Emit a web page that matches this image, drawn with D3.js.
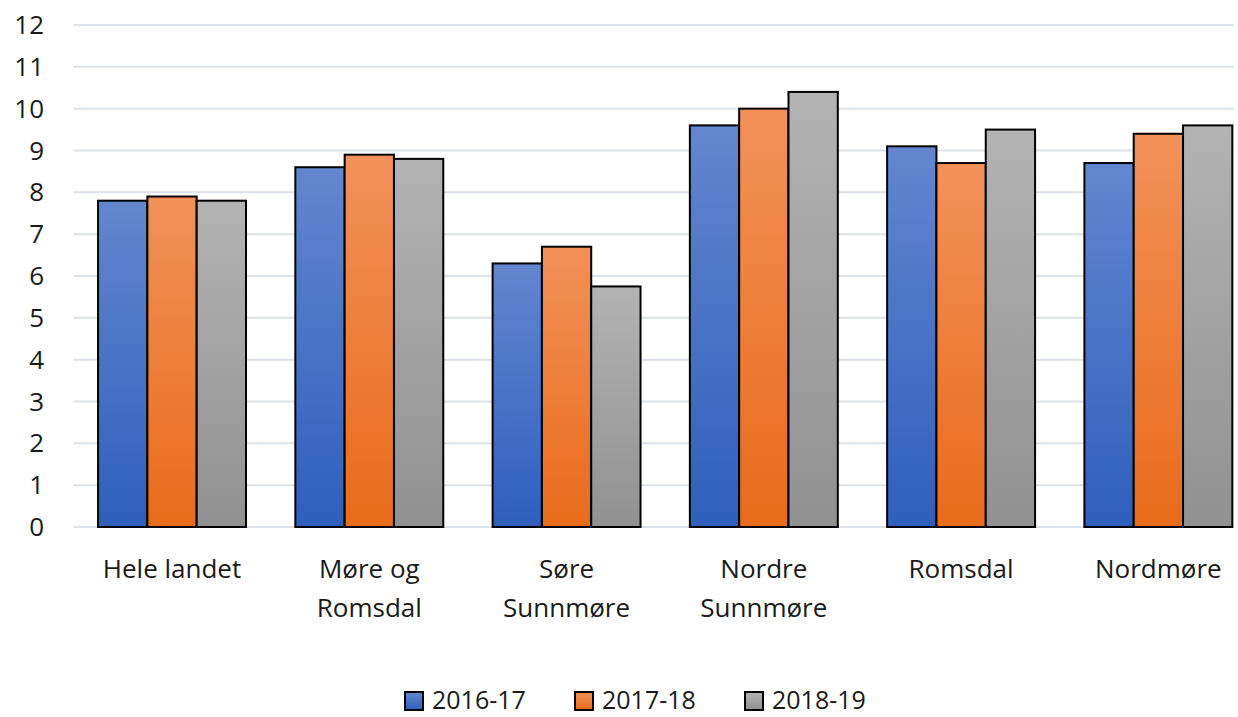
<!DOCTYPE html>
<html>
<head>
<meta charset="utf-8">
<script src="https://cdn.jsdelivr.net/npm/d3@7"></script>
<style>
  body { margin: 0; background: #fff; }
  text { font-family: "Open Sans", "DejaVu Sans", sans-serif; fill: #1a1a1a; }
</style>
</head>
<body>
<svg id="chart" width="1238" height="717"></svg>
<script>
// data
var categories = [["Hele landet"], ["Møre og", "Romsdal"], ["Søre", "Sunnmøre"], ["Nordre", "Sunnmøre"], ["Romsdal"], ["Nordmøre"]];
var seriesNames = ["2016-17", "2017-18", "2018-19"];
var s2016 = [7.8, 8.6, 6.3, 9.6, 9.1, 8.7];
var s2017 = [7.9, 8.9, 6.7, 10.0, 8.7, 9.4];
var s2018 = [7.8, 8.8, 5.75, 10.4, 9.5, 9.6];
var yTicks = [0, 1, 2, 3, 4, 5, 6, 7, 8, 9, 10, 11, 12];

var series = [s2016, s2017, s2018];
var gradStops = [["#6386cf", "#2e5fbc"], ["#f29159", "#e96b1a"], ["#b3b3b3", "#919191"]];

var svg = d3.select("#chart");
var defs = svg.append("defs");
gradStops.forEach(function(c, i) {
  var g = defs.append("linearGradient").attr("id", "grad" + i)
    .attr("x1", 0).attr("y1", 0).attr("x2", 0).attr("y2", 1);
  g.append("stop").attr("offset", "0%").attr("stop-color", c[0]);
  g.append("stop").attr("offset", "100%").attr("stop-color", c[1]);
});

var left = 73.4, right = 1257, gridRight = 1234;
var yScale = d3.scaleLinear().domain([0, 12]).range([527, 25]);
var x0 = d3.scaleBand().domain(d3.range(categories.length)).range([left, right]).paddingInner(0).paddingOuter(0);
var x1 = d3.scaleBand().domain(d3.range(series.length)).range([0, x0.bandwidth()]).paddingInner(0).paddingOuter(0.5);

// gridlines
svg.append("g").selectAll("line")
  .data(yTicks).enter().append("line")
  .attr("x1", left).attr("x2", gridRight)
  .attr("y1", function(d) { return yScale(d); })
  .attr("y2", function(d) { return yScale(d); })
  .attr("stroke", "#dde1ea").attr("stroke-width", 2);

// y labels
svg.append("g").selectAll("text")
  .data(yTicks).enter().append("text")
  .attr("x", 44)
  .attr("y", function(d) { return yScale(d) + 9; })
  .attr("text-anchor", "end")
  .attr("font-size", "26px")
  .text(function(d) { return d; });

// bars
var groups = svg.append("g").selectAll("g")
  .data(categories).enter().append("g")
  .attr("transform", function(d, i) { return "translate(" + x0(i) + ",0)"; });

groups.selectAll("rect")
  .data(function(d, i) { return series.map(function(s, k) { return { k: k, v: s[i] }; }); })
  .enter().append("rect")
  .attr("x", function(d) { return x1(d.k); })
  .attr("y", function(d) { return yScale(d.v); })
  .attr("width", x1.bandwidth())
  .attr("height", function(d) { return yScale(0) - yScale(d.v); })
  .attr("fill", function(d) { return "url(#grad" + d.k + ")"; })
  .attr("stroke", "#000").attr("stroke-width", 2);

// category labels
groups.append("text")
  .attr("x", x0.bandwidth() / 2)
  .attr("text-anchor", "middle")
  .attr("font-size", "26px")
  .selectAll("tspan")
  .data(function(d) { return d; }).enter().append("tspan")
  .attr("x", x0.bandwidth() / 2)
  .attr("y", function(d, i) { return 578 + i * 39; })
  .text(function(d) { return d; });

// legend
var legendX = [405, 575, 745];
var legend = svg.append("g").selectAll("g")
  .data(seriesNames).enter().append("g")
  .attr("transform", function(d, i) { return "translate(" + legendX[i] + ",692)"; });
legend.append("rect")
  .attr("width", 18).attr("height", 18)
  .attr("fill", function(d, i) { return "url(#grad" + i + ")"; })
  .attr("stroke", "#000").attr("stroke-width", 2);
legend.append("text")
  .attr("x", 27).attr("y", 17)
  .attr("font-size", "25px")
  .text(function(d) { return d; });
</script>
</body>
</html>
